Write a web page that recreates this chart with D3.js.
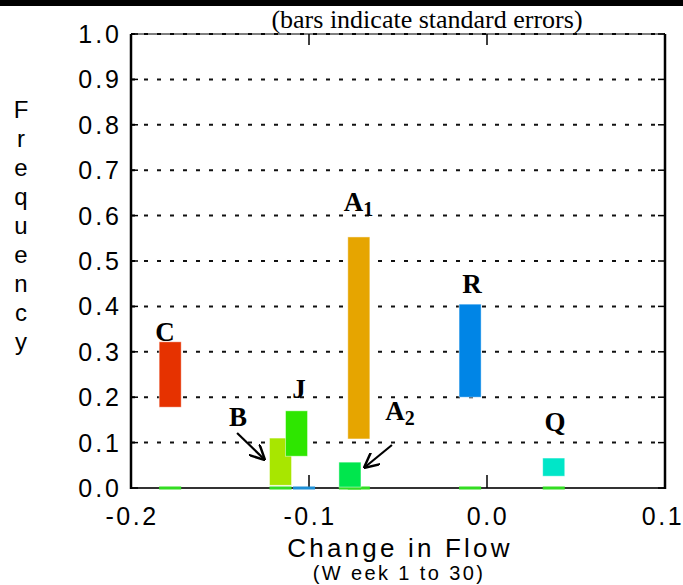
<!DOCTYPE html>
<html>
<head>
<meta charset="utf-8">
<script src="https://cdn.jsdelivr.net/npm/d3@7"></script>
<style>
  body { margin: 0; background: #fff; }
  svg { display: block; }
</style>
</head>
<body>
<div id="chart"></div>
<script>
// groups, their x position and the standard error range of frequency
const groups = ["C", "B", "J", "A1", "A2", "R", "Q"];
const centers = [-0.178, -0.116, -0.107, -0.072, -0.077, -0.0095, 0.0375];
const lows = [0.178, 0.006, 0.07, 0.108, 0.002, 0.20, 0.026];
const highs = [0.322, 0.110, 0.170, 0.553, 0.057, 0.405, 0.066];
const colors = ["#e63200", "#a8e600", "#2ee600", "#e6a500", "#00e64d", "#0085e6", "#00e6c8"];

// zero height bars sitting on the axis
const zeroX = [-0.178, -0.116, -0.1028, -0.077, -0.072, -0.0095, 0.0375];
const zeroColors = ["#33dd22", "#33dd22", "#1e8fd6", "#33dd22", "#33dd22", "#33dd22", "#33dd22"];

// labels
const labelText = ["C", "B", "J", "A", "A", "R", "Q"];
const labelSub = ["", "", "", "1", "2", "", ""];
const labelX = [-0.1809, -0.1399, -0.1056, -0.0722, -0.0489, -0.0084, 0.0382];
const labelY = [0.324, 0.1366, 0.198, 0.610, 0.150, 0.4295, 0.1256];

// arrows [x1, y1, x2, y2]
const arrows = [
    [-0.1404, 0.121, -0.1253, 0.0639],
    [-0.0534, 0.0947, -0.0685, 0.0463]
];

const yTicks = [0, 0.1, 0.2, 0.3, 0.4, 0.5, 0.6, 0.7, 0.8, 0.9, 1.0];
const xTicks = [-0.2, -0.1, 0.0, 0.1];
const barWidth = 0.0124;

const width = 683, height = 585;
const margin = { top: 34, right: 18, bottom: 97, left: 131 };

const svg = d3.select('#chart').append('svg')
    .attr('width', width)
    .attr('height', height);

const x = d3.scaleLinear().domain([-0.2, 0.1]).range([margin.left, width - margin.right]);
const y = d3.scaleLinear().domain([0, 1]).range([height - margin.bottom, margin.top]);

// plain hyphen minus like the original
const fmt = d => d3.format('.1f')(d).replace('\u2212', '-');

// cut off title bar at the very top
svg.append('rect')
    .attr('x', 0).attr('y', 0)
    .attr('width', width).attr('height', 6)
    .attr('fill', '#000');

svg.append('text')
    .attr('x', 427).attr('y', 28)
    .attr('text-anchor', 'middle')
    .style('font-family', '"Liberation Serif", "Times New Roman", serif')
    .style('font-size', '26px')
    .text('(bars indicate standard errors)');

// dotted gridlines
svg.append('g').selectAll('line')
    .data(yTicks)
    .join('line')
    .attr('x1', x(-0.2)).attr('x2', x(0.1))
    .attr('y1', d => y(d)).attr('y2', d => y(d))
    .attr('stroke', '#111')
    .attr('stroke-width', 2)
    .attr('stroke-dasharray', '4,9');

// frame
svg.append('line')
    .attr('x1', x(-0.2)).attr('x2', x(0.1)).attr('y1', y(1)).attr('y2', y(1))
    .attr('stroke', '#000').attr('stroke-width', 1);
svg.append('line')
    .attr('x1', x(-0.2)).attr('x2', x(0.1)).attr('y1', y(0)).attr('y2', y(0))
    .attr('stroke', '#333').attr('stroke-width', 2);
svg.append('line')
    .attr('x1', x(-0.2)).attr('x2', x(-0.2)).attr('y1', y(1)).attr('y2', y(0) + 1)
    .attr('stroke', '#000').attr('stroke-width', 2.5);
svg.append('line')
    .attr('x1', x(0.1)).attr('x2', x(0.1)).attr('y1', y(1)).attr('y2', y(0) + 1)
    .attr('stroke', '#000').attr('stroke-width', 2.5);

// inward ticks
const ticks = svg.append('g').attr('stroke', '#000').attr('stroke-width', 1.5);
ticks.selectAll('.yl')
    .data(yTicks)
    .join('line')
    .attr('x1', x(-0.2)).attr('x2', x(-0.2) + 7)
    .attr('y1', d => y(d)).attr('y2', d => y(d));
ticks.selectAll('.yr')
    .data(yTicks)
    .join('line')
    .attr('x1', x(0.1) - 7).attr('x2', x(0.1))
    .attr('y1', d => y(d)).attr('y2', d => y(d));
ticks.selectAll('.xb')
    .data([-0.1, 0.0])
    .join('line')
    .attr('x1', d => x(d)).attr('x2', d => x(d))
    .attr('y1', y(0)).attr('y2', y(0) - 13);
ticks.selectAll('.xt')
    .data([-0.1, 0.0])
    .join('line')
    .attr('x1', d => x(d)).attr('x2', d => x(d))
    .attr('y1', y(1)).attr('y2', y(1) + 11);

// tick labels
const sans = '"Liberation Sans", Arial, sans-serif';
svg.append('g').selectAll('text')
    .data(yTicks)
    .join('text')
    .attr('x', 122)
    .attr('y', d => y(d))
    .attr('dy', '0.36em')
    .attr('text-anchor', 'end')
    .style('font-family', sans)
    .style('font-size', '25px')
    .style('letter-spacing', '3px')
    .text(fmt);

svg.append('g').selectAll('text')
    .data(xTicks)
    .join('text')
    .attr('x', d => x(d) + (d === 0.1 ? -2 : 1))
    .attr('y', 525)
    .attr('text-anchor', 'middle')
    .style('font-family', sans)
    .style('font-size', '25px')
    .style('letter-spacing', '2.5px')
    .text(fmt);

// axis titles
svg.append('text')
    .attr('x', 400).attr('y', 557)
    .attr('text-anchor', 'middle')
    .style('font-family', sans)
    .style('font-size', '26px')
    .style('letter-spacing', '3.2px')
    .text('Change in Flow');

svg.append('text')
    .attr('x', 399).attr('y', 580)
    .attr('text-anchor', 'middle')
    .style('font-family', sans)
    .style('font-size', '20px')
    .style('letter-spacing', '2.4px')
    .text('(W eek 1 to 30)');

svg.append('g').selectAll('text')
    .data('Frequency'.split(''))
    .join('text')
    .attr('x', 21)
    .attr('y', (d, i) => 118 + i * 29)
    .attr('text-anchor', 'middle')
    .style('font-family', sans)
    .style('font-size', '24px')
    .text(d => d);

// zero bars on the axis
svg.append('g').selectAll('rect')
    .data(zeroX)
    .join('rect')
    .attr('x', d => x(d - barWidth / 2))
    .attr('y', y(0) - 1.5)
    .attr('width', x(barWidth) - x(0))
    .attr('height', 3)
    .attr('fill', (d, i) => zeroColors[i]);

// standard error bars
svg.append('g').selectAll('rect')
    .data(groups)
    .join('rect')
    .attr('x', (d, i) => x(centers[i] - barWidth / 2))
    .attr('y', (d, i) => y(highs[i]))
    .attr('width', x(barWidth) - x(0))
    .attr('height', (d, i) => y(lows[i]) - y(highs[i]))
    .attr('fill', (d, i) => colors[i])
    .attr('stroke', 'rgba(255,255,255,0.6)')
    .attr('stroke-width', 0.8);

// group labels
const serif = '"Liberation Serif", "Times New Roman", serif';
const lab = svg.append('g').selectAll('text')
    .data(labelText)
    .join('text')
    .attr('x', (d, i) => x(labelX[i]))
    .attr('y', (d, i) => y(labelY[i]))
    .attr('text-anchor', 'middle')
    .style('font-family', serif)
    .style('font-size', '27px')
    .style('font-weight', 'bold');
lab.append('tspan').text(d => d);
lab.append('tspan')
    .attr('dy', 5)
    .style('font-size', '20px')
    .text((d, i) => labelSub[i]);

// arrows
svg.append('defs').append('marker')
    .attr('id', 'head')
    .attr('viewBox', '0 0 10 10')
    .attr('refX', 9).attr('refY', 5)
    .attr('markerWidth', 7).attr('markerHeight', 7)
    .attr('orient', 'auto')
    .append('path')
    .attr('d', 'M0,0 L10,5 L0,10')
    .attr('fill', 'none')
    .attr('stroke', '#000')
    .attr('stroke-width', 1.6);

svg.append('g').selectAll('line')
    .data(arrows)
    .join('line')
    .attr('x1', d => x(d[0])).attr('y1', d => y(d[1]))
    .attr('x2', d => x(d[2])).attr('y2', d => y(d[3]))
    .attr('stroke', '#000')
    .attr('stroke-width', 2.2)
    .attr('marker-end', 'url(#head)');
</script>
</body>
</html>
